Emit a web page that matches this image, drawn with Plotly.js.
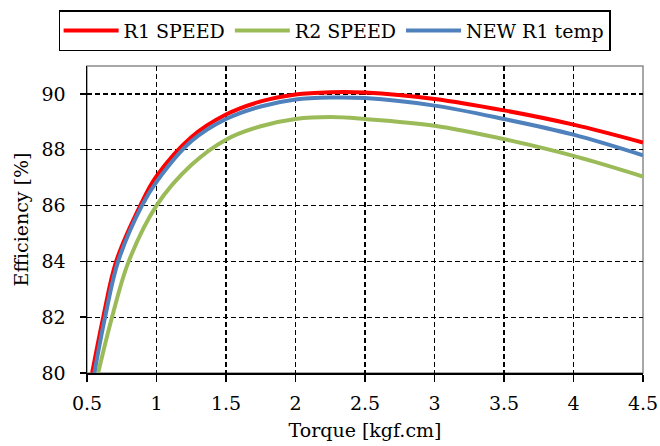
<!DOCTYPE html>
<html>
<head>
<meta charset="utf-8">
<script src="https://cdn.plot.ly/plotly-3.0.1.min.js"></script>
<style>
  html, body { margin: 0; padding: 0; background: #ffffff; }
  #chart { width: 660px; height: 446px; }
</style>
</head>
<body>
<div id="chart"></div>
<script>
// Motor efficiency vs. torque for three configurations
const seriesNames = ["R1 SPEED", "R2 SPEED", "NEW R1 temp"];
const seriesColors = ["#FF0000", "#9BBB59", "#4F81BD"];

const r1SpeedTorque = [0.537, 0.617, 0.71, 0.883, 1.0, 1.25, 1.5, 1.75, 2.0, 2.25, 2.5, 3.0, 3.5, 4.0, 4.5];
const r1SpeedEff    = [80, 82, 84, 86, 87.05, 88.45, 89.26, 89.73, 89.98, 90.06, 90.05, 89.82, 89.41, 88.9, 88.26];

const r2SpeedTorque = [0.58, 0.68, 0.80, 1.0, 1.25, 1.5, 1.75, 2.0, 2.25, 2.5, 3.0, 3.5, 4.0, 4.5];
const r2SpeedEff    = [80, 82, 84, 86, 87.45, 88.36, 88.84, 89.1, 89.17, 89.1, 88.86, 88.38, 87.78, 87.04];

const newR1Torque = [0.553, 0.63, 0.724, 0.895, 1.0, 1.25, 1.5, 1.75, 2.0, 2.25, 2.5, 3.0, 3.5, 4.0, 4.5];
const newR1Eff    = [80, 82, 84, 86, 86.85, 88.3, 89.1, 89.55, 89.8, 89.87, 89.85, 89.58, 89.1, 88.54, 87.8];

const xTickVals = [0.5, 1, 1.5, 2, 2.5, 3, 3.5, 4, 4.5];
const xTickText = ["0.5", "1", "1.5", "2", "2.5", "3", "3.5", "4", "4.5"];
const yTickVals = [80, 82, 84, 86, 88, 90];

const xs = [r1SpeedTorque, r2SpeedTorque, newR1Torque];
const ys = [r1SpeedEff, r2SpeedEff, newR1Eff];

const traces = seriesNames.map((name, i) => ({
  type: "scatter",
  mode: "lines",
  name: name,
  legendgroup: "g" + i,
  x: xs[i],
  y: ys[i],
  line: { color: seriesColors[i], width: 4, shape: "spline", smoothing: 1 },
  cliponaxis: true
}));

const font = { family: "DejaVu Serif", size: 19, color: "#000000" };
const legendFont = { family: "DejaVu Serif", size: 19, color: "#000000" };

const layout = {
  width: 660,
  height: 446,
  margin: { l: 87, r: 17, t: 66, b: 73, autoexpand: false },
  paper_bgcolor: "#ffffff",
  plot_bgcolor: "#ffffff",
  font: font,
  showlegend: true,
  legend: {
    orientation: "h",
    xref: "container",
    x: 0.507, xanchor: "center",
    y: 1.182, yanchor: "top",
    bordercolor: "#000000",
    borderwidth: 1.5,
    font: legendFont,
    itemwidth: 55,
    tracegroupgap: 30
  },
  xaxis: {
    range: [0.5, 4.5],
    tickvals: xTickVals,
    ticktext: xTickText,
    ticks: "outside",
    ticklen: 7,
    tickwidth: 1.5,
    tickcolor: "#000000",
    showline: true,
    linecolor: "#000000",
    linewidth: 1.5,
    showgrid: true,
    gridcolor: "#000000",
    gridwidth: 1.3,
    griddash: "5px,3px",
    zeroline: false,
    ticklabelstandoff: 6,
    title: { text: "Torque [kgf.cm]", font: font, standoff: 10 }
  },
  yaxis: {
    range: [80, 91],
    tickvals: yTickVals,
    ticks: "outside",
    ticklen: 6,
    tickwidth: 1.5,
    tickcolor: "#000000",
    showline: true,
    linecolor: "#000000",
    linewidth: 1.5,
    showgrid: true,
    gridcolor: "#000000",
    gridwidth: 1.3,
    griddash: "5px,3px",
    zeroline: false,
    ticklabelstandoff: 10,
    title: { text: "Efficiency [%]", font: font, standoff: 8 }
  },
  shapes: [{
    type: "rect", xref: "paper", yref: "paper",
    x0: 0, x1: 1, y0: 0, y1: 1,
    line: { color: "#8c8c8c", width: 1.5 },
    layer: "below"
  }]
};

Plotly.newPlot("chart", traces, layout, { staticPlot: true, displayModeBar: false });
</script>
</body>
</html>
